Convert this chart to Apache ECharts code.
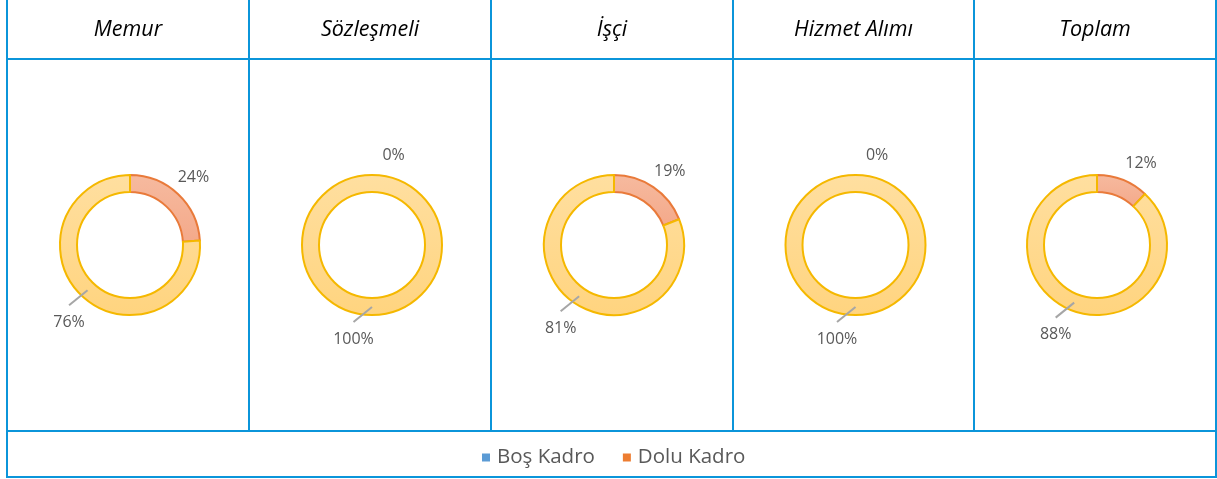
<!DOCTYPE html>
<html>
<head>
<meta charset="utf-8">
<script src="https://cdn.jsdelivr.net/npm/echarts@6/dist/echarts.min.js"></script>
<style>
html,body{margin:0;padding:0;background:#fff;}
#chart{width:1217px;height:479px;}
</style>
</head>
<body>
<div id="chart"></div>
<script>
// ---- data ----
var categories = ['Memur', 'Sözleşmeli', 'İşçi', 'Hizmet Alımı', 'Toplam'];
var seriesNames = ['Dolu Kadro', 'Boş Kadro'];
var legendNames = ['Boş Kadro', 'Dolu Kadro'];
var doluKadro = [24, 0, 19, 0, 12];
var bosKadro = [76, 100, 81, 100, 88];

// ---- layout / style ----
var colX = [7, 249, 491, 733, 974, 1216];
var headerY = 59, legendTopY = 431, bottomY = 477;
var lineColor = '#0B95DA';
var cy = 245;
var rIn = 53, rOut = 70;
var font = 'Open Sans';

var graphics = [];
function vline(x, y1, y2) {
  graphics.push({type: 'line', shape: {x1: x, y1: y1, x2: x, y2: y2}, style: {stroke: lineColor, lineWidth: 2}, silent: true});
}
function hline(y, x1, x2) {
  graphics.push({type: 'line', shape: {x1: x1, y1: y, x2: x2, y2: y}, style: {stroke: lineColor, lineWidth: 2}, silent: true});
}
vline(colX[0], 0, bottomY + 1);
vline(colX[5], 0, bottomY + 1);
for (var i = 1; i < 5; i++) vline(colX[i], 0, legendTopY);
hline(headerY, colX[0] - 1, colX[5] + 1);
hline(legendTopY, colX[0] - 1, colX[5] + 1);
hline(bottomY, colX[0] - 1, colX[5] + 1);

function labelLayout(p) {
  var pts = p.labelLinePoints;
  if (!pts) return {};
  var a = pts[0], b = pts[1];
  var dx = b[0] - a[0], dy = b[1] - a[1];
  var len = Math.sqrt(dx * dx + dy * dy) || 1;
  dx /= len; dy /= len;
  if (p.dataIndex === 1) {
    var s = [a[0] - dx * 8, a[1] - dy * 8];
    var e = [s[0] - 18.5, s[1] + 15];
    return {x: e[0], y: e[1] + 17, align: 'center', verticalAlign: 'middle', labelLinePoints: [s, e, e]};
  }
  // small slice: label outside the ring, nudged clockwise like the original
  var c = [a[0] - dx * rOut, a[1] - dy * rOut];
  var th = Math.atan2(dx, -dy);
  var th2 = 0.69 * th + 13.5 * Math.PI / 180;
  var R = 92.5;
  return {x: c[0] + R * Math.sin(th2), y: c[1] - R * Math.cos(th2), align: 'center', verticalAlign: 'middle',
    labelLinePoints: [[a[0], a[1]], [a[0], a[1]], [a[0], a[1]]]};
}

var series = [];
categories.forEach(function (cat, i) {
  var cx = (colX[i] + colX[i + 1]) / 2 + 2;
  graphics.push({
    type: 'text', x: (colX[i] + colX[i + 1]) / 2, y: 30, silent: true,
    style: {text: cat, fill: '#000', font: 'italic 21.5px "' + font + '"', textAlign: 'center', textVerticalAlign: 'middle'}
  });
  // ring
  series.push({
    type: 'pie',
    name: cat,
    z: 2,
    center: [cx, cy],
    radius: [rIn, rOut],
    startAngle: 90,
    clockwise: true,
    silent: true,
    label: {show: false},
    labelLine: {show: false},
    data: [
      {
        name: seriesNames[0], value: doluKadro[i],
        itemStyle: {
          color: {type: 'linear', x: 0, y: 0, x2: 0, y2: 1, colorStops: [{offset: 0, color: '#F6BA9F'}, {offset: 1, color: '#F4A98A'}]},
          borderColor: doluKadro[i] === 0 ? '#F5B800' : '#E97A3A', borderWidth: 2
        }
      },
      {
        name: seriesNames[1], value: bosKadro[i],
        itemStyle: {
          color: {type: 'linear', x: 0, y: 0, x2: 0, y2: 1, colorStops: [{offset: 0, color: '#FFDFA0'}, {offset: 1, color: '#FFD47F'}]},
          borderColor: '#F5B800', borderWidth: 2
        }
      }
    ]
  });
  // label overlay (same data, transparent sectors) so leader lines sit above the ring
  series.push({
    type: 'pie',
    name: cat + ' labels',
    z: 3,
    center: [cx, cy],
    radius: [rIn, rOut],
    startAngle: 90,
    clockwise: true,
    avoidLabelOverlap: false,
    silent: true,
    itemStyle: {color: 'rgba(0,0,0,0)', borderWidth: 0},
    label: {show: true, position: 'outside', formatter: '{c}%', color: '#595959', fontSize: 16, fontFamily: font},
    labelLine: {show: true, showAbove: true, length: 15, length2: 0, lineStyle: {color: '#A6A6A6', width: 2}},
    labelLayout: labelLayout,
    data: [
      {name: seriesNames[0], value: doluKadro[i]},
      {name: seriesNames[1], value: bosKadro[i]}
    ]
  });
});

var chart = echarts.init(document.getElementById('chart'), null, {renderer: 'canvas'});
chart.setOption({
  animation: false,
  backgroundColor: '#fff',
  legend: {
    data: [
      {name: legendNames[0], itemStyle: {color: '#5B9BD5', borderWidth: 0}},
      {name: legendNames[1], itemStyle: {color: '#ED7D31', borderWidth: 0}}
    ],
    icon: 'rect', itemWidth: 8, itemHeight: 8, itemGap: 28,
    left: 477, top: 442,
    selectedMode: false,
    textStyle: {color: '#595959', fontSize: 20.5, fontFamily: font, padding: [0, 0, 0, 2]}
  },
  graphic: graphics,
  series: series
});
</script>
</body>
</html>
